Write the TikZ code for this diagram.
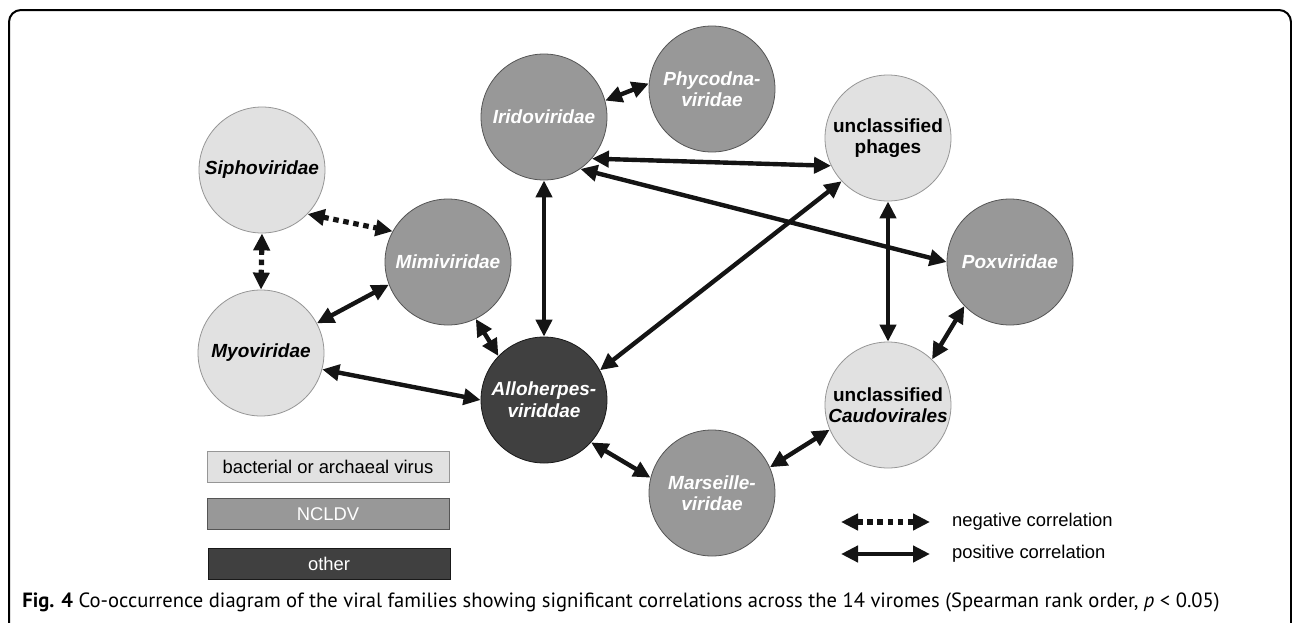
\documentclass[tikz,border=0pt]{standalone}
\usepackage{fontspec}
\setmainfont{Liberation Sans}
\newfontfamily\capfont{PT Sans}
\usepackage{tikz}
\definecolor{bactfill}{RGB}{225, 225, 225}
\definecolor{bactline}{RGB}{150, 150, 150}
\definecolor{ncldvfill}{RGB}{152, 152, 152}
\definecolor{ncldvline}{RGB}{85, 85, 85}
\definecolor{otherfill}{RGB}{64, 64, 64}
\definecolor{otherline}{RGB}{25, 25, 25}
\definecolor{arrowblack}{RGB}{20, 20, 20}
\usetikzlibrary{arrows.meta, positioning}

\begin{document}
\begin{tikzpicture}[
    x=0.5pt, y=-0.5pt,
    >={Triangle[length=8.5pt, width=8pt]},
    virus/.style={circle, draw, inner sep=0pt, minimum size=63pt, align=center, font=\fontsize{9.5}{10.6}\selectfont\bfseries\itshape},
    bactvirus/.style={virus, fill=bactfill, draw=bactline, text=black},
    ncldvvirus/.style={virus, fill=ncldvfill, draw=ncldvline, text=white},
    othervirus/.style={virus, fill=otherfill, draw=otherline, text=white},
    keybox/.style={rectangle, draw, minimum width=121pt, minimum height=15.5pt, font=\fontsize{9.2}{11}\selectfont},
    arrow/.style={<->, line width=2.2pt, draw=arrowblack},
    negarrow/.style={arrow, line width=2.6pt, dash pattern=on 2.8pt off 2.3pt}
]
    \useasboundingbox (0,0) rectangle (1292,622);
    \draw[line width=1pt, rounded corners=6pt] (9,640) -- (9,10) -- (1291,10) -- (1291,640);

    % Virus families
    \node[bactvirus] (sipho) at (262,170) {Siphoviridae};
    \node[bactvirus] (myo) at (261,353) {Myoviridae};
    \node[ncldvvirus] (mimi) at (448,262) {Mimiviridae};
    \node[ncldvvirus] (irido) at (544,117) {Iridoviridae};
    \node[ncldvvirus] (phyco) at (712,89) {Phycodna-\\viridae};
    \node[bactvirus, font=\fontsize{9.5}{10.6}\selectfont\bfseries] (phages) at (888,138) {unclassified\\phages};
    \node[ncldvvirus] (pox) at (1010,262) {Poxviridae};
    \node[othervirus, font=\fontsize{9.5}{10.9}\selectfont\bfseries\itshape] (allo) at (544,400) {Alloherpes-\\viriddae};
    \node[bactvirus, font=\fontsize{9.5}{10.6}\selectfont\bfseries] (caudo) at (888,405) {unclassified\\\textit{Caudovirales}};
    \node[ncldvvirus] (marseille) at (712,493) {Marseille-\\viridae};

    % Correlations
    \draw[arrow] (irido.15) -- (phyco.175);
    \draw[arrow] (irido.-41) -- (phages.206);
    \draw[arrow] (irido.-55) -- (pox.180);
    \draw[arrow] (irido.south) -- (allo.north);
    \draw[arrow] (phages.223) -- (allo.28);
    \draw[arrow] (phages.south) -- (caudo.north);
    \draw[arrow] (pox.224) -- (caudo.46);
    \draw[arrow] (caudo.203) -- (marseille.24);
    \draw[arrow] (allo.-42) -- (marseille.166);
    \draw[arrow] (allo.136) -- (mimi.-64);
    \draw[arrow] (allo.west) -- (myo.-15);
    \draw[arrow] (mimi.201) -- (myo.28);
    \draw[negarrow] (sipho.-44) -- (mimi.151);
    \draw[negarrow] (sipho.south) -- (myo.north);

    % Legend
    \node[keybox, fill=bactfill, draw=bactline] (kbact) at (328,467) {bacterial or archaeal virus};
    \node[keybox, fill=ncldvfill, draw=ncldvline, text=white] (kncldv) at (328,514) {NCLDV};
    \node[keybox, fill=otherfill, draw=otherline, text=white] (kother) at (329,564) {other};

    \coordinate (negl) at (841,522);
    \coordinate (negr) at (930,522);
    \coordinate (posl) at (841,554);
    \coordinate (posr) at (930,554);
    \draw[negarrow] (negl) -- (negr);
    \draw[arrow] (posl) -- (posr);
    \node[anchor=west, font=\fontsize{9.2}{11}\selectfont] (negtext) at (945,522) {negative correlation};
    \node[anchor=west, font=\fontsize{9.2}{11}\selectfont] (postext) at (945,554) {positive correlation};

    % Caption
    \node[anchor=base west, inner sep=0pt, font=\capfont\fontsize{10.3}{12}\selectfont] (caption) at (22,607)
        {\textbf{Fig. 4} Co-occurrence diagram of the viral families showing significant correlations across the 14 viromes (Spearman rank order, \textit{p} < 0.05)};
\end{tikzpicture}
\end{document}
